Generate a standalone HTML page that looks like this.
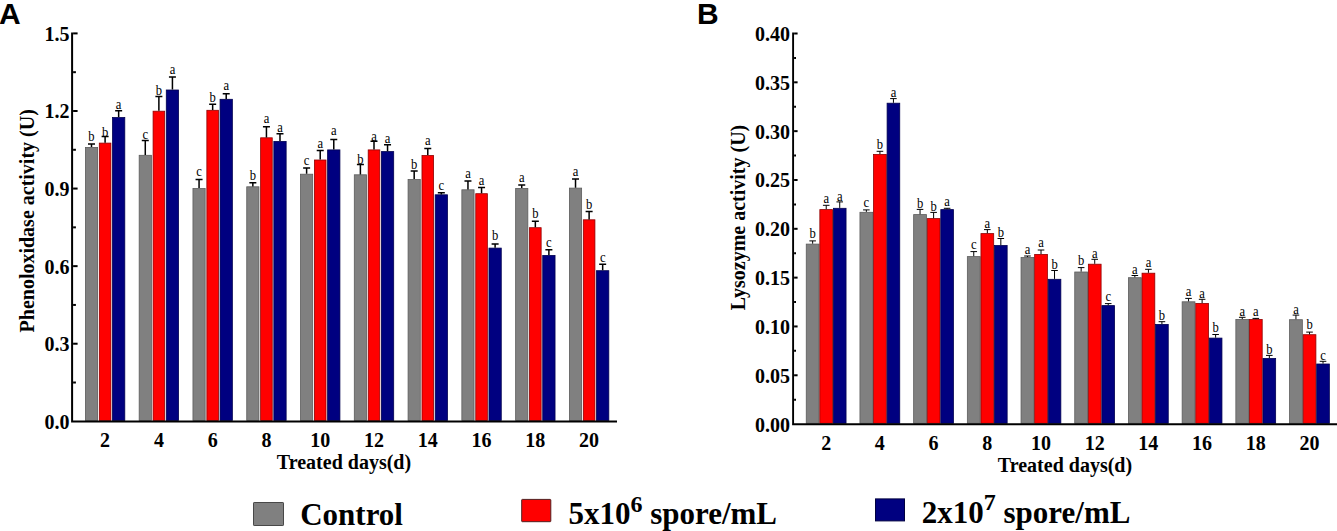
<!DOCTYPE html>
<html><head><meta charset="utf-8"><style>
html,body{margin:0;padding:0;background:#fff;width:1337px;height:531px;overflow:hidden}
svg{display:block}
.t{font-family:"Liberation Serif",serif;font-weight:bold;font-size:20px;fill:#000}
.l{font-family:"Liberation Serif",serif;font-size:14px;fill:#000;text-anchor:middle}
.big{font-family:"Liberation Sans",sans-serif;font-weight:bold;font-size:30px;fill:#000}
.lg{font-family:"Liberation Serif",serif;font-weight:bold;font-size:31px;fill:#000}
.sup{font-size:24px}
</style></head><body>
<svg width="1337" height="531" viewBox="0 0 1337 531">
<rect x="85.40" y="147.40" width="12.20" height="273.10" fill="#808080" stroke="#5c5c5c" stroke-width="0.8"/>
<rect x="99.30" y="143.10" width="11.60" height="277.40" fill="#ff0000" stroke="#900000" stroke-width="0.8"/>
<rect x="112.50" y="117.50" width="12.30" height="303.00" fill="#000080" stroke="#000050" stroke-width="0.8"/>
<path d="M91.50 147.00V143.90M88.00 143.90H95.00" stroke="#000" stroke-width="1.5" fill="none"/>
<text transform="translate(91.50 141.40) scale(0.9 1)" class="l">b</text>
<path d="M105.10 142.70V136.50M101.60 136.50H108.60" stroke="#000" stroke-width="1.5" fill="none"/>
<text transform="translate(105.10 136.70) scale(0.9 1)" class="l">b</text>
<path d="M118.65 117.10V110.80M115.15 110.80H122.15" stroke="#000" stroke-width="1.5" fill="none"/>
<text transform="translate(118.65 108.90) scale(0.9 1)" class="l">a</text>
<rect x="139.18" y="155.30" width="12.20" height="265.20" fill="#808080" stroke="#5c5c5c" stroke-width="0.8"/>
<rect x="153.08" y="111.20" width="11.60" height="309.30" fill="#ff0000" stroke="#900000" stroke-width="0.8"/>
<rect x="166.28" y="90.00" width="12.30" height="330.50" fill="#000080" stroke="#000050" stroke-width="0.8"/>
<path d="M145.28 154.90V140.40M141.78 140.40H148.78" stroke="#000" stroke-width="1.5" fill="none"/>
<text transform="translate(145.28 138.80) scale(0.9 1)" class="l">c</text>
<path d="M158.88 110.80V96.40M155.38 96.40H162.38" stroke="#000" stroke-width="1.5" fill="none"/>
<text transform="translate(158.88 95.30) scale(0.9 1)" class="l">b</text>
<path d="M172.43 89.60V77.10M168.93 77.10H175.93" stroke="#000" stroke-width="1.5" fill="none"/>
<text transform="translate(172.43 73.90) scale(0.9 1)" class="l">a</text>
<rect x="192.96" y="188.50" width="12.20" height="232.00" fill="#808080" stroke="#5c5c5c" stroke-width="0.8"/>
<rect x="206.86" y="110.30" width="11.60" height="310.20" fill="#ff0000" stroke="#900000" stroke-width="0.8"/>
<rect x="220.06" y="99.30" width="12.30" height="321.20" fill="#000080" stroke="#000050" stroke-width="0.8"/>
<path d="M199.06 188.10V179.50M195.56 179.50H202.56" stroke="#000" stroke-width="1.5" fill="none"/>
<text transform="translate(199.06 176.30) scale(0.9 1)" class="l">c</text>
<path d="M212.66 109.90V104.30M209.16 104.30H216.16" stroke="#000" stroke-width="1.5" fill="none"/>
<text transform="translate(212.66 102.00) scale(0.9 1)" class="l">b</text>
<path d="M226.21 98.90V93.80M222.71 93.80H229.71" stroke="#000" stroke-width="1.5" fill="none"/>
<text transform="translate(226.21 89.70) scale(0.9 1)" class="l">a</text>
<rect x="246.74" y="186.80" width="12.20" height="233.70" fill="#808080" stroke="#5c5c5c" stroke-width="0.8"/>
<rect x="260.64" y="137.80" width="11.60" height="282.70" fill="#ff0000" stroke="#900000" stroke-width="0.8"/>
<rect x="273.84" y="141.40" width="12.30" height="279.10" fill="#000080" stroke="#000050" stroke-width="0.8"/>
<path d="M252.84 186.40V182.70M249.34 182.70H256.34" stroke="#000" stroke-width="1.5" fill="none"/>
<text transform="translate(252.84 180.00) scale(0.9 1)" class="l">b</text>
<path d="M266.44 137.40V126.80M262.94 126.80H269.94" stroke="#000" stroke-width="1.5" fill="none"/>
<text transform="translate(266.44 122.80) scale(0.9 1)" class="l">a</text>
<path d="M279.99 141.00V133.70M276.49 133.70H283.49" stroke="#000" stroke-width="1.5" fill="none"/>
<text transform="translate(279.99 131.80) scale(0.9 1)" class="l">a</text>
<rect x="300.52" y="174.20" width="12.20" height="246.30" fill="#808080" stroke="#5c5c5c" stroke-width="0.8"/>
<rect x="314.42" y="160.00" width="11.60" height="260.50" fill="#ff0000" stroke="#900000" stroke-width="0.8"/>
<rect x="327.62" y="149.90" width="12.30" height="270.60" fill="#000080" stroke="#000050" stroke-width="0.8"/>
<path d="M306.62 173.80V167.90M303.12 167.90H310.12" stroke="#000" stroke-width="1.5" fill="none"/>
<text transform="translate(306.62 165.20) scale(0.9 1)" class="l">c</text>
<path d="M320.22 159.60V150.60M316.72 150.60H323.72" stroke="#000" stroke-width="1.5" fill="none"/>
<text transform="translate(320.22 148.30) scale(0.9 1)" class="l">a</text>
<path d="M333.77 149.50V139.60M330.27 139.60H337.27" stroke="#000" stroke-width="1.5" fill="none"/>
<text transform="translate(333.77 135.30) scale(0.9 1)" class="l">a</text>
<rect x="354.30" y="174.80" width="12.20" height="245.70" fill="#808080" stroke="#5c5c5c" stroke-width="0.8"/>
<rect x="368.20" y="149.90" width="11.60" height="270.60" fill="#ff0000" stroke="#900000" stroke-width="0.8"/>
<rect x="381.40" y="151.60" width="12.30" height="268.90" fill="#000080" stroke="#000050" stroke-width="0.8"/>
<path d="M360.40 174.40V164.50M356.90 164.50H363.90" stroke="#000" stroke-width="1.5" fill="none"/>
<text transform="translate(360.40 164.00) scale(0.9 1)" class="l">b</text>
<path d="M374.00 149.50V141.30M370.50 141.30H377.50" stroke="#000" stroke-width="1.5" fill="none"/>
<text transform="translate(374.00 140.80) scale(0.9 1)" class="l">a</text>
<path d="M387.55 151.20V144.70M384.05 144.70H391.05" stroke="#000" stroke-width="1.5" fill="none"/>
<text transform="translate(387.55 142.90) scale(0.9 1)" class="l">a</text>
<rect x="408.08" y="179.50" width="12.20" height="241.00" fill="#808080" stroke="#5c5c5c" stroke-width="0.8"/>
<rect x="421.98" y="155.50" width="11.60" height="265.00" fill="#ff0000" stroke="#900000" stroke-width="0.8"/>
<rect x="435.18" y="194.80" width="12.30" height="225.70" fill="#000080" stroke="#000050" stroke-width="0.8"/>
<path d="M414.18 179.10V170.90M410.68 170.90H417.68" stroke="#000" stroke-width="1.5" fill="none"/>
<text transform="translate(414.18 168.50) scale(0.9 1)" class="l">b</text>
<path d="M427.78 155.10V148.50M424.28 148.50H431.28" stroke="#000" stroke-width="1.5" fill="none"/>
<text transform="translate(427.78 144.50) scale(0.9 1)" class="l">a</text>
<path d="M441.33 194.40V192.80M437.83 192.80H444.83" stroke="#000" stroke-width="1.5" fill="none"/>
<text transform="translate(441.33 190.00) scale(0.9 1)" class="l">c</text>
<rect x="461.86" y="189.80" width="12.20" height="230.70" fill="#808080" stroke="#5c5c5c" stroke-width="0.8"/>
<rect x="475.76" y="193.70" width="11.60" height="226.80" fill="#ff0000" stroke="#900000" stroke-width="0.8"/>
<rect x="488.96" y="248.10" width="12.30" height="172.40" fill="#000080" stroke="#000050" stroke-width="0.8"/>
<path d="M467.96 189.40V180.90M464.46 180.90H471.46" stroke="#000" stroke-width="1.5" fill="none"/>
<text transform="translate(467.96 177.80) scale(0.9 1)" class="l">a</text>
<path d="M481.56 193.30V187.50M478.06 187.50H485.06" stroke="#000" stroke-width="1.5" fill="none"/>
<text transform="translate(481.56 184.60) scale(0.9 1)" class="l">a</text>
<path d="M495.11 247.70V244.00M491.61 244.00H498.61" stroke="#000" stroke-width="1.5" fill="none"/>
<text transform="translate(495.11 240.00) scale(0.9 1)" class="l">b</text>
<rect x="515.64" y="188.40" width="12.20" height="232.10" fill="#808080" stroke="#5c5c5c" stroke-width="0.8"/>
<rect x="529.54" y="227.70" width="11.60" height="192.80" fill="#ff0000" stroke="#900000" stroke-width="0.8"/>
<rect x="542.74" y="255.40" width="12.30" height="165.10" fill="#000080" stroke="#000050" stroke-width="0.8"/>
<path d="M521.74 188.00V185.10M518.24 185.10H525.24" stroke="#000" stroke-width="1.5" fill="none"/>
<text transform="translate(521.74 181.50) scale(0.9 1)" class="l">a</text>
<path d="M535.34 227.30V221.20M531.84 221.20H538.84" stroke="#000" stroke-width="1.5" fill="none"/>
<text transform="translate(535.34 217.80) scale(0.9 1)" class="l">b</text>
<path d="M548.89 255.00V249.70M545.39 249.70H552.39" stroke="#000" stroke-width="1.5" fill="none"/>
<text transform="translate(548.89 247.10) scale(0.9 1)" class="l">c</text>
<rect x="569.42" y="188.10" width="12.20" height="232.40" fill="#808080" stroke="#5c5c5c" stroke-width="0.8"/>
<rect x="583.32" y="219.80" width="11.60" height="200.70" fill="#ff0000" stroke="#900000" stroke-width="0.8"/>
<rect x="596.52" y="270.70" width="12.30" height="149.80" fill="#000080" stroke="#000050" stroke-width="0.8"/>
<path d="M575.52 187.70V179.00M572.02 179.00H579.02" stroke="#000" stroke-width="1.5" fill="none"/>
<text transform="translate(575.52 176.20) scale(0.9 1)" class="l">a</text>
<path d="M589.12 219.40V211.50M585.62 211.50H592.62" stroke="#000" stroke-width="1.5" fill="none"/>
<text transform="translate(589.12 209.40) scale(0.9 1)" class="l">b</text>
<path d="M602.67 270.30V264.20M599.17 264.20H606.17" stroke="#000" stroke-width="1.5" fill="none"/>
<text transform="translate(602.67 261.70) scale(0.9 1)" class="l">c</text>
<path d="M72.1 32.4V422.5M71.1 421.5H617" stroke="#000" stroke-width="2" fill="none"/>
<path d="M73.10 382.51H75.90" stroke="#000" stroke-width="2" />
<path d="M73.10 343.72H77.60" stroke="#000" stroke-width="2" />
<path d="M73.10 304.93H75.90" stroke="#000" stroke-width="2" />
<path d="M73.10 266.14H77.60" stroke="#000" stroke-width="2" />
<path d="M73.10 227.35H75.90" stroke="#000" stroke-width="2" />
<path d="M73.10 188.56H77.60" stroke="#000" stroke-width="2" />
<path d="M73.10 149.77H75.90" stroke="#000" stroke-width="2" />
<path d="M73.10 110.98H77.60" stroke="#000" stroke-width="2" />
<path d="M73.10 72.19H75.90" stroke="#000" stroke-width="2" />
<path d="M73.10 33.40H77.60" stroke="#000" stroke-width="2" />
<text x="69.6" y="428.70" class="t" text-anchor="end">0.0</text>
<text x="69.6" y="351.12" class="t" text-anchor="end">0.3</text>
<text x="69.6" y="273.54" class="t" text-anchor="end">0.6</text>
<text x="69.6" y="195.96" class="t" text-anchor="end">0.9</text>
<text x="69.6" y="118.38" class="t" text-anchor="end">1.2</text>
<text x="69.6" y="40.80" class="t" text-anchor="end">1.5</text>
<text x="105.10" y="447" class="t" text-anchor="middle">2</text>
<text x="158.88" y="447" class="t" text-anchor="middle">4</text>
<text x="212.66" y="447" class="t" text-anchor="middle">6</text>
<text x="266.44" y="447" class="t" text-anchor="middle">8</text>
<text x="320.22" y="447" class="t" text-anchor="middle">10</text>
<text x="374.00" y="447" class="t" text-anchor="middle">12</text>
<text x="427.78" y="447" class="t" text-anchor="middle">14</text>
<text x="481.56" y="447" class="t" text-anchor="middle">16</text>
<text x="535.34" y="447" class="t" text-anchor="middle">18</text>
<text x="589.12" y="447" class="t" text-anchor="middle">20</text>
<text x="344" y="468.7" class="t" text-anchor="middle">Treated days(d)</text>
<text transform="translate(33.5 220.8) rotate(-90)" class="t" text-anchor="middle">Phenoloxidase activity (U)</text>
<text x="-1" y="23.8" class="big">A</text>
<rect x="806.25" y="244.10" width="12.80" height="179.20" fill="#808080" stroke="#5c5c5c" stroke-width="0.8"/>
<rect x="819.85" y="209.60" width="12.75" height="213.70" fill="#ff0000" stroke="#900000" stroke-width="0.8"/>
<rect x="833.40" y="208.30" width="12.65" height="215.00" fill="#000080" stroke="#000050" stroke-width="0.8"/>
<path d="M812.65 243.70V240.90M809.35 240.90H815.95" stroke="#000" stroke-width="1.0" fill="none"/>
<text transform="translate(812.65 238.10) scale(0.9 1)" class="l">b</text>
<path d="M826.23 209.20V205.30M822.93 205.30H829.52" stroke="#000" stroke-width="1.0" fill="none"/>
<text transform="translate(826.23 202.70) scale(0.9 1)" class="l">a</text>
<path d="M839.73 207.90V201.90M836.43 201.90H843.02" stroke="#000" stroke-width="1.0" fill="none"/>
<text transform="translate(839.73 201.10) scale(0.9 1)" class="l">a</text>
<rect x="859.95" y="212.30" width="12.80" height="211.00" fill="#808080" stroke="#5c5c5c" stroke-width="0.8"/>
<rect x="873.55" y="154.40" width="12.75" height="268.90" fill="#ff0000" stroke="#900000" stroke-width="0.8"/>
<rect x="887.10" y="103.20" width="12.65" height="320.10" fill="#000080" stroke="#000050" stroke-width="0.8"/>
<path d="M866.35 211.90V209.90M863.05 209.90H869.65" stroke="#000" stroke-width="1.0" fill="none"/>
<text transform="translate(866.35 207.00) scale(0.9 1)" class="l">c</text>
<path d="M879.93 154.00V151.30M876.63 151.30H883.23" stroke="#000" stroke-width="1.0" fill="none"/>
<text transform="translate(879.93 149.30) scale(0.9 1)" class="l">b</text>
<path d="M893.43 102.80V98.60M890.13 98.60H896.73" stroke="#000" stroke-width="1.0" fill="none"/>
<text transform="translate(893.43 96.70) scale(0.9 1)" class="l">a</text>
<rect x="913.65" y="214.60" width="12.80" height="208.70" fill="#808080" stroke="#5c5c5c" stroke-width="0.8"/>
<rect x="927.25" y="218.60" width="12.75" height="204.70" fill="#ff0000" stroke="#900000" stroke-width="0.8"/>
<rect x="940.80" y="209.60" width="12.65" height="213.70" fill="#000080" stroke="#000050" stroke-width="0.8"/>
<path d="M920.05 214.20V209.40M916.75 209.40H923.35" stroke="#000" stroke-width="1.0" fill="none"/>
<text transform="translate(920.05 207.70) scale(0.9 1)" class="l">b</text>
<path d="M933.62 218.20V212.40M930.33 212.40H936.92" stroke="#000" stroke-width="1.0" fill="none"/>
<text transform="translate(933.62 210.70) scale(0.9 1)" class="l">b</text>
<path d="M947.12 209.20V208.30M943.83 208.30H950.42" stroke="#000" stroke-width="1.0" fill="none"/>
<text transform="translate(947.12 206.20) scale(0.9 1)" class="l">a</text>
<rect x="967.35" y="256.60" width="12.80" height="166.70" fill="#808080" stroke="#5c5c5c" stroke-width="0.8"/>
<rect x="980.95" y="233.60" width="12.75" height="189.70" fill="#ff0000" stroke="#900000" stroke-width="0.8"/>
<rect x="994.50" y="245.50" width="12.65" height="177.80" fill="#000080" stroke="#000050" stroke-width="0.8"/>
<path d="M973.75 256.20V251.60M970.45 251.60H977.05" stroke="#000" stroke-width="1.0" fill="none"/>
<text transform="translate(973.75 249.20) scale(0.9 1)" class="l">c</text>
<path d="M987.33 233.20V229.60M984.03 229.60H990.62" stroke="#000" stroke-width="1.0" fill="none"/>
<text transform="translate(987.33 227.90) scale(0.9 1)" class="l">a</text>
<path d="M1000.83 245.10V238.50M997.53 238.50H1004.12" stroke="#000" stroke-width="1.0" fill="none"/>
<text transform="translate(1000.83 236.50) scale(0.9 1)" class="l">b</text>
<rect x="1021.05" y="257.50" width="12.80" height="165.80" fill="#808080" stroke="#5c5c5c" stroke-width="0.8"/>
<rect x="1034.65" y="254.40" width="12.75" height="168.90" fill="#ff0000" stroke="#900000" stroke-width="0.8"/>
<rect x="1048.20" y="279.30" width="12.65" height="144.00" fill="#000080" stroke="#000050" stroke-width="0.8"/>
<path d="M1027.45 257.10V256.00M1024.15 256.00H1030.75" stroke="#000" stroke-width="1.0" fill="none"/>
<text transform="translate(1027.45 253.80) scale(0.9 1)" class="l">a</text>
<path d="M1041.03 254.00V250.00M1037.73 250.00H1044.33" stroke="#000" stroke-width="1.0" fill="none"/>
<text transform="translate(1041.03 246.60) scale(0.9 1)" class="l">a</text>
<path d="M1054.53 278.90V270.50M1051.23 270.50H1057.83" stroke="#000" stroke-width="1.0" fill="none"/>
<text transform="translate(1054.53 269.00) scale(0.9 1)" class="l">b</text>
<rect x="1074.75" y="272.00" width="12.80" height="151.30" fill="#808080" stroke="#5c5c5c" stroke-width="0.8"/>
<rect x="1088.35" y="264.20" width="12.75" height="159.10" fill="#ff0000" stroke="#900000" stroke-width="0.8"/>
<rect x="1101.90" y="305.60" width="12.65" height="117.70" fill="#000080" stroke="#000050" stroke-width="0.8"/>
<path d="M1081.15 271.60V267.60M1077.85 267.60H1084.45" stroke="#000" stroke-width="1.0" fill="none"/>
<text transform="translate(1081.15 265.00) scale(0.9 1)" class="l">b</text>
<path d="M1094.73 263.80V259.30M1091.43 259.30H1098.03" stroke="#000" stroke-width="1.0" fill="none"/>
<text transform="translate(1094.73 257.80) scale(0.9 1)" class="l">a</text>
<path d="M1108.23 305.20V303.60M1104.93 303.60H1111.53" stroke="#000" stroke-width="1.0" fill="none"/>
<text transform="translate(1108.23 301.00) scale(0.9 1)" class="l">c</text>
<rect x="1128.45" y="277.70" width="12.80" height="145.60" fill="#808080" stroke="#5c5c5c" stroke-width="0.8"/>
<rect x="1142.05" y="273.20" width="12.75" height="150.10" fill="#ff0000" stroke="#900000" stroke-width="0.8"/>
<rect x="1155.60" y="324.40" width="12.65" height="98.90" fill="#000080" stroke="#000050" stroke-width="0.8"/>
<path d="M1134.85 277.30V275.50M1131.55 275.50H1138.15" stroke="#000" stroke-width="1.0" fill="none"/>
<text transform="translate(1134.85 273.50) scale(0.9 1)" class="l">a</text>
<path d="M1148.42 272.80V269.30M1145.12 269.30H1151.72" stroke="#000" stroke-width="1.0" fill="none"/>
<text transform="translate(1148.42 266.60) scale(0.9 1)" class="l">a</text>
<path d="M1161.92 324.00V321.70M1158.62 321.70H1165.22" stroke="#000" stroke-width="1.0" fill="none"/>
<text transform="translate(1161.92 320.20) scale(0.9 1)" class="l">b</text>
<rect x="1182.15" y="301.80" width="12.80" height="121.50" fill="#808080" stroke="#5c5c5c" stroke-width="0.8"/>
<rect x="1195.75" y="303.40" width="12.75" height="119.90" fill="#ff0000" stroke="#900000" stroke-width="0.8"/>
<rect x="1209.30" y="338.10" width="12.65" height="85.20" fill="#000080" stroke="#000050" stroke-width="0.8"/>
<path d="M1188.55 301.40V298.40M1185.25 298.40H1191.85" stroke="#000" stroke-width="1.0" fill="none"/>
<text transform="translate(1188.55 296.30) scale(0.9 1)" class="l">a</text>
<path d="M1202.12 303.00V299.30M1198.83 299.30H1205.42" stroke="#000" stroke-width="1.0" fill="none"/>
<text transform="translate(1202.12 297.80) scale(0.9 1)" class="l">a</text>
<path d="M1215.62 337.70V334.50M1212.33 334.50H1218.92" stroke="#000" stroke-width="1.0" fill="none"/>
<text transform="translate(1215.62 332.00) scale(0.9 1)" class="l">b</text>
<rect x="1235.85" y="319.50" width="12.80" height="103.80" fill="#808080" stroke="#5c5c5c" stroke-width="0.8"/>
<rect x="1249.45" y="319.50" width="12.75" height="103.80" fill="#ff0000" stroke="#900000" stroke-width="0.8"/>
<rect x="1263.00" y="358.40" width="12.65" height="64.90" fill="#000080" stroke="#000050" stroke-width="0.8"/>
<path d="M1242.25 319.10V317.30M1238.95 317.30H1245.55" stroke="#000" stroke-width="1.0" fill="none"/>
<text transform="translate(1242.25 315.90) scale(0.9 1)" class="l">a</text>
<path d="M1255.83 319.10V318.40M1252.53 318.40H1259.12" stroke="#000" stroke-width="1.0" fill="none"/>
<text transform="translate(1255.83 315.90) scale(0.9 1)" class="l">a</text>
<path d="M1269.33 358.00V355.40M1266.03 355.40H1272.62" stroke="#000" stroke-width="1.0" fill="none"/>
<text transform="translate(1269.33 353.50) scale(0.9 1)" class="l">b</text>
<rect x="1289.55" y="319.70" width="12.80" height="103.60" fill="#808080" stroke="#5c5c5c" stroke-width="0.8"/>
<rect x="1303.15" y="334.70" width="12.75" height="88.60" fill="#ff0000" stroke="#900000" stroke-width="0.8"/>
<rect x="1316.70" y="364.00" width="12.65" height="59.30" fill="#000080" stroke="#000050" stroke-width="0.8"/>
<path d="M1295.95 319.30V315.10M1292.65 315.10H1299.25" stroke="#000" stroke-width="1.0" fill="none"/>
<text transform="translate(1295.95 314.30) scale(0.9 1)" class="l">a</text>
<path d="M1309.53 334.30V332.10M1306.23 332.10H1312.83" stroke="#000" stroke-width="1.0" fill="none"/>
<text transform="translate(1309.53 329.40) scale(0.9 1)" class="l">b</text>
<path d="M1323.03 363.60V361.30M1319.73 361.30H1326.33" stroke="#000" stroke-width="1.0" fill="none"/>
<text transform="translate(1323.03 359.50) scale(0.9 1)" class="l">c</text>
<path d="M793.1 32.5V425.2M792.1 424.3H1337" stroke="#000" stroke-width="1.9" fill="none"/>
<path d="M794.10 399.69H796.00" stroke="#000" stroke-width="2" />
<path d="M794.10 375.28H797.60" stroke="#000" stroke-width="2" />
<path d="M794.10 350.86H796.00" stroke="#000" stroke-width="2" />
<path d="M794.10 326.45H797.60" stroke="#000" stroke-width="2" />
<path d="M794.10 302.04H796.00" stroke="#000" stroke-width="2" />
<path d="M794.10 277.62H797.60" stroke="#000" stroke-width="2" />
<path d="M794.10 253.21H796.00" stroke="#000" stroke-width="2" />
<path d="M794.10 228.80H797.60" stroke="#000" stroke-width="2" />
<path d="M794.10 204.39H796.00" stroke="#000" stroke-width="2" />
<path d="M794.10 179.98H797.60" stroke="#000" stroke-width="2" />
<path d="M794.10 155.56H796.00" stroke="#000" stroke-width="2" />
<path d="M794.10 131.15H797.60" stroke="#000" stroke-width="2" />
<path d="M794.10 106.74H796.00" stroke="#000" stroke-width="2" />
<path d="M794.10 82.32H797.60" stroke="#000" stroke-width="2" />
<path d="M794.10 57.91H796.00" stroke="#000" stroke-width="2" />
<path d="M794.10 33.50H797.60" stroke="#000" stroke-width="2" />
<text x="790" y="431.50" class="t" text-anchor="end">0.00</text>
<text x="790" y="382.68" class="t" text-anchor="end">0.05</text>
<text x="790" y="333.85" class="t" text-anchor="end">0.10</text>
<text x="790" y="285.02" class="t" text-anchor="end">0.15</text>
<text x="790" y="236.20" class="t" text-anchor="end">0.20</text>
<text x="790" y="187.38" class="t" text-anchor="end">0.25</text>
<text x="790" y="138.55" class="t" text-anchor="end">0.30</text>
<text x="790" y="89.72" class="t" text-anchor="end">0.35</text>
<text x="790" y="40.90" class="t" text-anchor="end">0.40</text>
<text x="826.15" y="449.7" class="t" text-anchor="middle">2</text>
<text x="879.85" y="449.7" class="t" text-anchor="middle">4</text>
<text x="933.55" y="449.7" class="t" text-anchor="middle">6</text>
<text x="987.25" y="449.7" class="t" text-anchor="middle">8</text>
<text x="1040.95" y="449.7" class="t" text-anchor="middle">10</text>
<text x="1094.65" y="449.7" class="t" text-anchor="middle">12</text>
<text x="1148.35" y="449.7" class="t" text-anchor="middle">14</text>
<text x="1202.05" y="449.7" class="t" text-anchor="middle">16</text>
<text x="1255.75" y="449.7" class="t" text-anchor="middle">18</text>
<text x="1309.45" y="449.7" class="t" text-anchor="middle">20</text>
<text x="1065" y="471.7" class="t" text-anchor="middle">Treated days(d)</text>
<text transform="translate(744.8 217.5) rotate(-90)" class="t" text-anchor="middle">Lysozyme activity (U)</text>
<text x="697" y="24" class="big">B</text>
<rect x="253.5" y="502.5" width="30" height="23" rx="0.6" fill="#808080" stroke="#484848" stroke-width="1"/>
<text x="300.2" y="525" class="lg">Control</text>
<rect x="521.7" y="499.4" width="29.1" height="22.3" rx="0.6" fill="#ff0000" stroke="#502020" stroke-width="1"/>
<text x="568.4" y="524.4" class="lg">5x10<tspan class="sup" dy="-12.6">6</tspan><tspan dy="12.6"> spore/mL</tspan></text>
<rect x="875.5" y="498.9" width="29" height="22" fill="#000080" stroke="#000040" stroke-width="1"/>
<text x="921.8" y="523.1" class="lg">2x10<tspan class="sup" dy="-12.6">7</tspan><tspan dy="12.6"> spore/mL</tspan></text>
</svg>
</body></html>
